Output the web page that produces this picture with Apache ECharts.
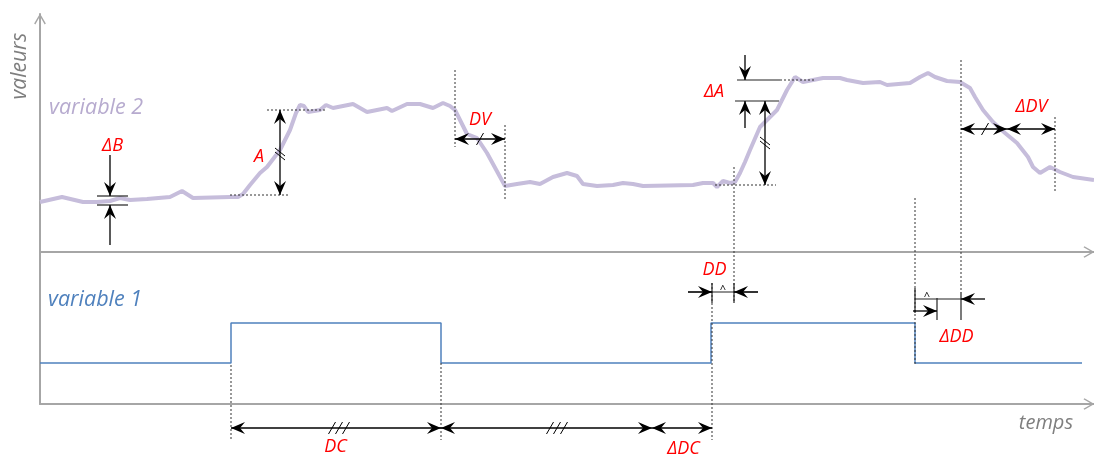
<!DOCTYPE html>
<html>
<head>
<meta charset="utf-8">
<script src="https://cdn.jsdelivr.net/npm/echarts@6/dist/echarts.min.js"></script>
<style>
html, body { margin: 0; padding: 0; background: #fff; }
#chart { width: 1094px; height: 457px; }
</style>
</head>
<body>
<div id="chart"></div>
<script>
// temps : 1 unité = 10 px ; valeurs du panneau haut (v < 0 = sous l'axe du haut)
var var2Time = [0, 2.2, 4.3, 5.7, 7.0, 8.0, 9.0, 10.7, 13.0, 14.2, 15.3, 19.0, 19.8, 20.3, 21.0, 22.0, 22.7,
    24.0, 25.0, 25.6, 26.0, 26.4, 26.8, 28.0, 28.6, 29.3, 31.3, 32.7, 34.7, 35.2, 36.7, 38.0, 39.3, 40.3,
    41.0, 41.5, 42.0, 42.7, 43.7, 44.7, 46.5, 47.7, 49.0, 50.0, 51.3, 52.7, 53.7, 54.3, 55.7, 57.3, 58.3,
    59.3, 60.3, 65.3, 66.3, 67.3, 67.7, 68.3, 69.0, 69.5, 70.0, 70.5, 71.0, 72.0, 73.7, 74.7, 75.5, 76.3,
    78.3, 80.0, 80.7, 82.3, 84.0, 84.7, 87.0, 88.0, 88.8, 89.5, 90.7, 92.0, 93.0, 93.5, 94.3, 95.3, 96.5,
    97.7, 98.8, 99.3, 100.0, 101.0, 102.0, 103.3, 105.4];
var var2Value = [5.0, 5.5, 5.0, 5.0, 5.1, 5.4, 5.2, 5.3, 5.5, 6.1, 5.4, 5.5, 5.5, 5.8, 6.7, 7.9, 8.5,
    10.2, 12.2, 13.9, 14.7, 14.6, 14.0, 14.2, 14.7, 14.4, 14.8, 14.0, 14.4, 14.1, 14.8, 14.8, 14.4, 14.9,
    14.6, 14.2, 13.2, 11.8, 11.4, 9.9, 6.6, 6.8, 7.0, 6.8, 7.5, 7.9, 7.6, 6.8, 6.6, 6.7, 6.9,
    6.8, 6.6, 6.7, 6.9, 6.9, 6.5, 7.1, 6.9, 7.0, 7.9, 9.0, 10.2, 12.5, 14.2, 16.2, 17.5, 17.0,
    17.4, 17.4, 17.2, 16.9, 17.0, 16.7, 16.9, 17.5, 17.9, 17.5, 17.1, 17.0, 16.4, 15.5, 14.2, 13.0, 11.9,
    10.9, 9.5, 8.5, 7.9, 8.5, 8.0, 7.5, 7.2];

var var1Time = [0, 19.1, 40.1, 67.1, 87.5, 104.2];
var var1Value = [4.1, 8.1, 4.1, 8.1, 4.1, 4.1];

// annotations [t1, v1, t2, v2]
var dottedLines = [
    [22.7, 14.2, 28.7, 14.2], [19.0, 5.7, 25.0, 5.7],
    [41.5, 18.2, 41.5, 10.5], [46.5, 12.7, 46.5, 5.2],
    [74.0, 17.2, 77.5, 17.2], [67.5, 6.7, 73.6, 6.7],
    [69.4, 8.5, 69.4, -5.1], [67.2, -3.1, 67.2, -18.8],
    [87.5, 5.4, 87.5, -11.3], [92.1, 19.2, 92.1, -4.0],
    [101.5, 13.5, 101.5, 5.9],
    [19.1, -11.3, 19.1, -18.8], [40.1, -11.1, 40.1, -18.8]
];
var solidLines = [
    [5.7, 5.6, 8.8, 5.6], [5.7, 4.7, 8.8, 4.7],
    [69.7, 17.2, 74.0, 17.2], [69.5, 15.1, 73.9, 15.1],
    [67.2, -3.1, 67.2, -5.1], [69.4, -3.1, 69.4, -5.1], [64.8, -4.0, 71.8, -4.0],
    [87.5, -3.6, 87.5, -6.1], [89.7, -4.6, 89.7, -6.8], [92.1, -4.0, 92.1, -6.8],
    [87.5, -4.7, 92.1, -4.7]
];
// flèches simples : queue -> pointe
var arrows = [
    [7.0, 9.7, 7.0, 5.6], [7.0, 0.7, 7.0, 4.7],
    [70.5, 19.7, 70.5, 17.2], [70.5, 12.4, 70.5, 15.1],
    [64.8, -4.0, 67.2, -4.0], [71.8, -4.0, 69.4, -4.0],
    [94.5, -4.7, 92.1, -4.7], [87.3, -5.9, 89.7, -5.9]
];
var doubleArrows = [
    [24.0, 14.2, 24.0, 5.7], [41.5, 11.3, 46.5, 11.3], [72.5, 15.1, 72.5, 6.7],
    [92.1, 12.3, 96.7, 12.3], [96.7, 12.3, 101.5, 12.3],
    [19.1, -17.6, 40.1, -17.6], [40.1, -17.6, 61.2, -17.6], [61.2, -17.6, 67.2, -17.6]
];
// hachures [t, v, nombre, 'v' = trait vertical / 'h' = trait horizontal]
var slashes = [
    [24.0, 9.8, 2, 'v'], [44.0, 11.3, 1, 'h'], [72.5, 10.9, 2, 'v'],
    [94.5, 12.3, 1, 'h'], [29.9, -17.6, 3, 'h'], [51.7, -17.6, 3, 'h']
];
var carets = [[68.3, -3.8], [88.7, -4.5]];
var redLabels = [
    ['ΔB', 7.25, 10.6], ['A', 21.9, 9.5], ['DV', 44.0, 13.2], ['ΔA', 67.4, 16.05],
    ['DD', 67.45, -1.75], ['ΔDD', 91.65, -8.45], ['ΔDV', 99.15, 14.55],
    ['DC', 29.55, -19.45], ['ΔDC', 64.35, -19.65]
];

var FONT = '"Open Sans", "Noto Sans", sans-serif';
var AXIS_COLOR = '#a6a6a6';
var CHEVRON = 'path://M50,0L100,86L90,94L50,24L10,94L0,86Z';

function head(tip, tail) {
    var dx = tip[0] - tail[0], dy = tip[1] - tail[1];
    var len = Math.sqrt(dx * dx + dy * dy) || 1;
    var ux = dx / len, uy = dy / len, nx = -uy, ny = ux;
    var L = 14, W = 6, N = 9;
    return {
        type: 'polygon',
        shape: { points: [
            [tip[0], tip[1]],
            [tip[0] - ux * L + nx * W, tip[1] - uy * L + ny * W],
            [tip[0] - ux * N, tip[1] - uy * N],
            [tip[0] - ux * L - nx * W, tip[1] - uy * L - ny * W]
        ] },
        style: { fill: '#000' }
    };
}

function seg(p1, p2, style) {
    return { type: 'line', shape: { x1: p1[0], y1: p1[1], x2: p2[0], y2: p2[1] }, style: style };
}

function ends(api) {
    return [api.coord([api.value(0), api.value(1)]), api.coord([api.value(2), api.value(3)])];
}

function annot(name, data, render) {
    return {
        name: name, type: 'custom', xAxisIndex: 0, yAxisIndex: 0, silent: true, z: 5,
        data: data, renderItem: render
    };
}

var chart = echarts.init(document.getElementById('chart'));

chart.setOption({
    animation: false,
    grid: [
        { left: 40, right: 0, top: 14, height: 238 },
        { left: 40, right: 0, top: 252, height: 152 }
    ],
    xAxis: [0, 1].map(function (i) {
        return {
            type: 'value', gridIndex: i, min: 0, max: 105.4,
            axisLine: { show: true, lineStyle: { color: AXIS_COLOR, width: 2 },
                symbol: ['none', CHEVRON], symbolSize: [13, 11], symbolOffset: [0, -5] },
            axisTick: { show: false }, axisLabel: { show: false }, splitLine: { show: false }
        };
    }),
    yAxis: [
        { type: 'value', gridIndex: 0, min: 0, max: 23.8,
            axisLine: { show: true, lineStyle: { color: AXIS_COLOR, width: 2 },
                symbol: ['none', CHEVRON], symbolSize: [13, 11], symbolOffset: [0, -5] },
            axisTick: { show: false }, axisLabel: { show: false }, splitLine: { show: false } },
        { type: 'value', gridIndex: 1, min: 0, max: 15.2,
            axisLine: { show: true, lineStyle: { color: AXIS_COLOR, width: 2 } },
            axisTick: { show: false }, axisLabel: { show: false }, splitLine: { show: false } }
    ],
    graphic: [
        { type: 'text', x: 20, y: 66, rotation: Math.PI / 2,
            style: { text: 'valeurs', fill: '#7f7f7f', fontSize: 21, fontStyle: 'italic', fontFamily: FONT,
                align: 'center', verticalAlign: 'middle' } },
        { type: 'text', x: 1073, y: 423,
            style: { text: 'temps', fill: '#7f7f7f', fontSize: 20, fontStyle: 'italic', fontFamily: FONT,
                align: 'right', verticalAlign: 'middle' } },
        { type: 'text', x: 49, y: 108,
            style: { text: 'variable 2', fill: '#b7abcf', fontSize: 21.5, fontStyle: 'italic', fontFamily: FONT,
                align: 'left', verticalAlign: 'middle' } },
        { type: 'text', x: 48, y: 300,
            style: { text: 'variable 1', fill: '#4f81bd', fontSize: 21.5, fontStyle: 'italic', fontFamily: FONT,
                align: 'left', verticalAlign: 'middle' } }
    ],
    series: [
        {
            name: 'variable 2', type: 'line', xAxisIndex: 0, yAxisIndex: 0, clip: false,
            showSymbol: false, silent: true,
            lineStyle: { color: '#c6bddb', width: 4 },
            data: var2Time.map(function (t, i) { return [t, var2Value[i]]; })
        },
        {
            name: 'variable 1', type: 'line', xAxisIndex: 1, yAxisIndex: 1, step: 'end',
            showSymbol: false, silent: true,
            lineStyle: { color: '#4f81bd', width: 1.5 },
            data: var1Time.map(function (t, i) { return [t, var1Value[i]]; })
        },
        annot('dotted', dottedLines, function (params, api) {
            var p = ends(api);
            return seg(p[0], p[1], { stroke: '#333', lineWidth: 1, lineDash: [2, 2] });
        }),
        annot('solid', solidLines, function (params, api) {
            var p = ends(api);
            return seg(p[0], p[1], { stroke: '#222', lineWidth: 1.2 });
        }),
        annot('arrows', arrows, function (params, api) {
            var p = ends(api);
            return { type: 'group', children: [
                seg(p[0], p[1], { stroke: '#000', lineWidth: 1.3 }),
                head(p[1], p[0])
            ] };
        }),
        annot('doubleArrows', doubleArrows, function (params, api) {
            var p = ends(api);
            return { type: 'group', children: [
                seg(p[0], p[1], { stroke: '#000', lineWidth: 1.3 }),
                head(p[1], p[0]),
                head(p[0], p[1])
            ] };
        }),
        annot('slashes', slashes.map(function (d) { return [d[0], d[1]]; }), function (params, api) {
            var s = slashes[params.dataIndex];
            var c = api.coord([s[0], s[1]]);
            var kids = [];
            for (var i = 0; i < s[2]; i++) {
                var off;
                if (s[3] === 'v') {
                    off = (i - (s[2] - 1) / 2) * 4;
                    kids.push(seg([c[0] - 5, c[1] - 4 + off], [c[0] + 5, c[1] + 4 + off], { stroke: '#000', lineWidth: 1 }));
                } else {
                    off = (i - (s[2] - 1) / 2) * 7;
                    kids.push(seg([c[0] + off + 3.5, c[1] - 6], [c[0] + off - 3.5, c[1] + 6], { stroke: '#000', lineWidth: 1 }));
                }
            }
            return { type: 'group', children: kids };
        }),
        annot('carets', carets, function (params, api) {
            var c = api.coord([api.value(0), api.value(1)]);
            return { type: 'text', x: c[0], y: c[1],
                style: { text: '^', fill: '#000', fontSize: 11, fontFamily: FONT, align: 'center', verticalAlign: 'middle' } };
        }),
        annot('labels', redLabels.map(function (d) { return [d[1], d[2]]; }), function (params, api) {
            var c = api.coord([api.value(0), api.value(1)]);
            return { type: 'text', x: c[0], y: c[1],
                style: { text: redLabels[params.dataIndex][0], fill: '#ff0000', fontSize: 18, fontStyle: 'italic',
                    fontFamily: FONT, align: 'center', verticalAlign: 'middle' } };
        })
    ]
});
</script>
</body>
</html>
